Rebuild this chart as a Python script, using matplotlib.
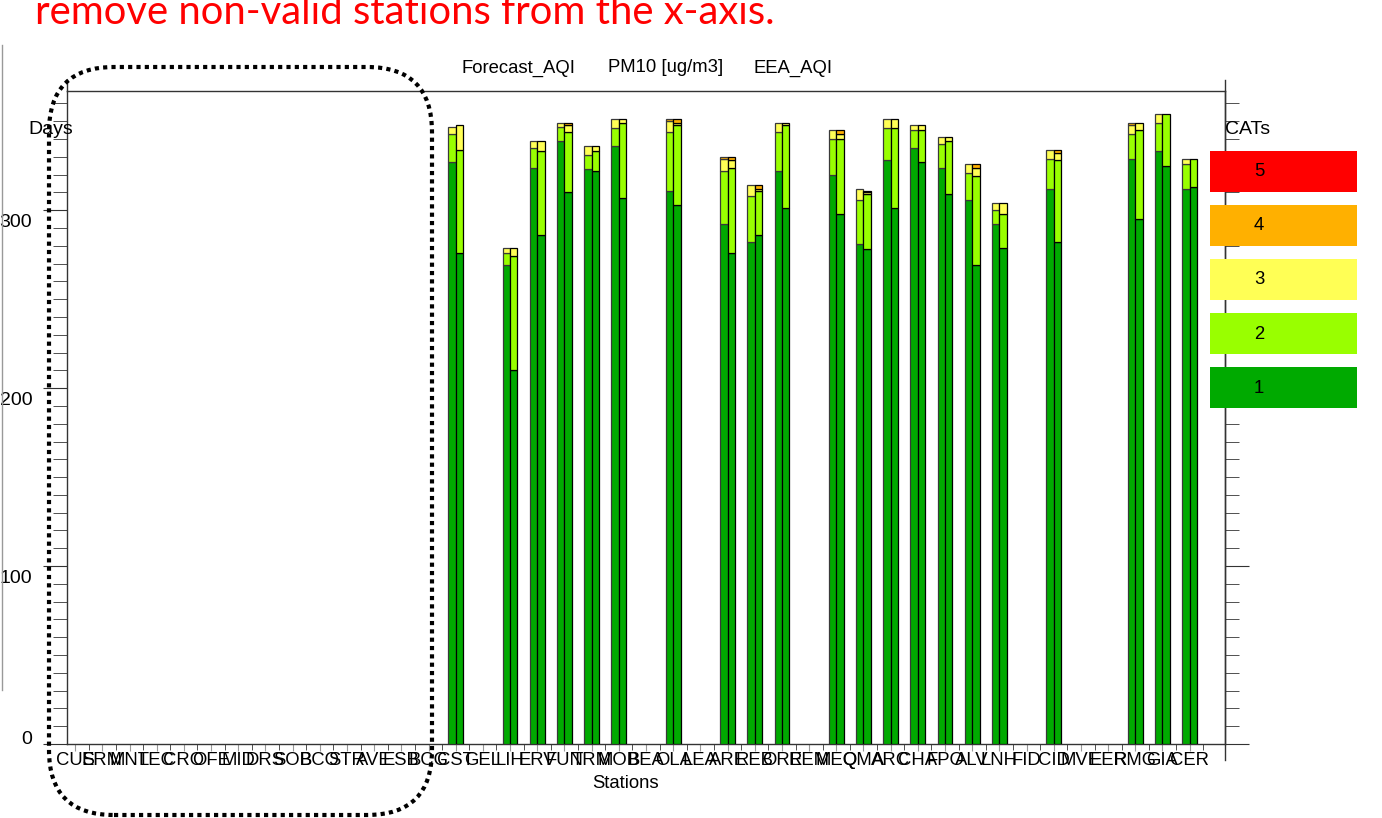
import numpy as np
import matplotlib
matplotlib.use("Agg")
import matplotlib.pyplot as plt
from matplotlib.patches import Rectangle, FancyBboxPatch
from matplotlib.transforms import ScaledTranslation

plt.rcParams['font.family'] = ['Liberation Sans', 'DejaVu Sans']

# estaciones del eje x (todas, incluidas las que no tienen datos)
stations = ["CUS", "ERM", "MNT", "LEC", "CRO", "OFE", "MID", "DRS", "SOB", "BCO",
            "STR", "AVE", "ESB", "BCG", "CST", "GEL", "LIH", "ERV", "FUN", "TRM",
            "MOB", "BEA", "OLA", "LEA", "ARE", "REB", "ORE", "REM", "MEQ", "QMA",
            "ARC", "CHA", "FPO", "ALV", "LNH", "FID", "CID", "MVE", "EER", "RMG",
            "GIA", "CER"]

# estaciones con datos
valid = ["CST", "LIH", "ERV", "FUN", "TRM", "MOB", "OLA", "ARE", "REB", "ORE",
         "MEQ", "QMA", "ARC", "CHA", "FPO", "ALV", "LNH", "CID", "RMG", "GIA", "CER"]

# días por categoría - Forecast_AQI (barra izquierda)
fc_cat1 = [327, 269, 324, 339, 323, 336, 311, 292, 282, 322, 320, 281, 328, 335, 324, 306, 292, 312, 329, 333, 312]
fc_cat2 = [16, 7, 11, 8, 8, 10, 33, 30, 26, 22, 20, 25, 18, 10, 13, 15, 8, 17, 14, 16, 14]
fc_cat3 = [4, 3, 4, 2, 5, 5, 6, 7, 6, 5, 5, 6, 5, 3, 4, 5, 4, 5, 5, 5, 3]
fc_cat4 = [0, 0, 0, 0, 0, 0, 1, 1, 0, 0, 0, 0, 0, 0, 0, 0, 0, 0, 1, 0, 0]

# días por categoría - EEA_AQI (barra derecha)
ob_cat1 = [276, 210, 286, 310, 322, 307, 303, 276, 286, 301, 298, 278, 301, 327, 309, 269, 279, 282, 295, 325, 313]
ob_cat2 = [58, 64, 47, 34, 11, 42, 45, 48, 25, 47, 42, 31, 45, 18, 30, 50, 19, 46, 50, 29, 16]
ob_cat3 = [14, 5, 6, 4, 3, 2, 1, 4, 1, 1, 3, 1, 5, 3, 2, 5, 6, 4, 4, 0, 0]
ob_cat4 = [0, 0, 0, 1, 0, 0, 2, 2, 2, 0, 2, 1, 0, 0, 0, 2, 0, 2, 0, 0, 0]

cat_labels = ["1", "2", "3", "4", "5"]
cat_colors = ["#00AA00", "#99FF00", "#FFFF55", "#FFB000", "#FF0000"]

W, H = 1382, 818
fs = 13.3
fig = plt.figure(figsize=(W / 100, H / 100), dpi=100)
ax = fig.add_axes([67 / W, 1 - 744 / H, (1225 - 67) / W, (744 - 91) / H])

pos = np.array([stations.index(s) for s in valid], dtype=float)
bw = 0.27


def stacked(x, cats, edge):
    bottom = np.zeros(len(x))
    for vals, col in zip(cats, cat_colors):
        vals = np.array(vals, dtype=float)
        m = vals > 0
        ax.bar(x[m], vals[m], bw, bottom=bottom[m], color=col,
               edgecolor=edge, linewidth=0.9, zorder=3)
        bottom += vals


stacked(pos - 0.135, [fc_cat1, fc_cat2, fc_cat3, fc_cat4], "#3a3a3a")
stacked(pos + 0.135, [ob_cat1, ob_cat2, ob_cat3, ob_cat4], "black")

ax.set_xlim(-0.3, 42.3)
ax.set_ylim(0, 367)

ax.set_xticks(np.arange(len(stations)))
ax.set_xticklabels(stations, fontsize=fs)
ax.set_xticks(np.arange(len(stations)) + 0.5, minor=True)
ax.tick_params(axis='x', which='major', length=5, color='#999999', pad=1)
ax.tick_params(axis='x', which='minor', length=4, color='#333333')

ax.set_yticks([0, 100, 200, 300])
ax.set_yticks(np.arange(0, 367, 10), minor=True)
ax.tick_params(axis='y', which='major', length=17, color='#333333', pad=8,
               labelsize=14, right=True, direction='out')
ax.tick_params(axis='y', which='minor', length=10, color='#333333', right=True,
               direction='out')
for lab in ax.get_yticklabels():
    dy = 0.07 if lab.get_text() == "0" else -0.1
    lab.set_transform(lab.get_transform() + ScaledTranslation(0, dy, fig.dpi_scale_trans))

for sp in ax.spines.values():
    sp.set_color('#333333')
    sp.set_linewidth(1)

# prolongaciones de los ejes
ax.plot([0, 0], [1, 1 + 11 / 653], transform=ax.transAxes, color='#333333', lw=1, clip_on=False)
ax.plot([1, 1], [-16 / 653, 1 + 11 / 653], transform=ax.transAxes, color='#333333', lw=1, clip_on=False)

# títulos
fig.text(462 / W, 1 - 68 / H, "Forecast_AQI", fontsize=fs, va='center', ha='left')
fig.text(608 / W, 1 - 68 / H, "PM10 [ug/m3]", fontsize=fs, va='center', ha='left')
fig.text(754 / W, 1 - 68 / H, "EEA_AQI", fontsize=fs, va='center', ha='left')
fig.text(28 / W, 1 - 130 / H, "Days", fontsize=14, va='center', ha='left')
fig.text(1225 / W, 1 - 130 / H, "CATs", fontsize=14, va='center', ha='left')
fig.text(626 / W, 1 - 784 / H, "Stations", fontsize=fs, va='center', ha='center')

# leyenda de categorías
for k, (lab, col) in enumerate(zip(cat_labels[::-1], cat_colors[::-1])):
    top = 151 + k * 54
    fig.add_artist(Rectangle((1210 / W, 1 - (top + 41) / H), 147 / W, 41 / H,
                             transform=fig.transFigure, facecolor=col, edgecolor='none'))
    fig.text(1259 / W, 1 - (top + 21) / H, lab, fontsize=fs, va='center', ha='center')

# anotación de la diapositiva
fig.text(35 / W, 1 - 24 / H, "remove non-valid stations from the x-axis.",
         color='#FF0000', fontsize=28.8, family=['Lato', 'DejaVu Sans'], va='baseline', ha='left')
fig.add_artist(plt.Line2D([1.5 / W, 1.5 / W], [1 - 690 / H, 1 - 45 / H],
                          transform=fig.transFigure, color='#999999', lw=1))

caja = FancyBboxPatch((0.49, 0.03), 3.83, 7.48,
                      boxstyle="round,pad=0,rounding_size=0.65",
                      transform=fig.dpi_scale_trans, facecolor='none',
                      edgecolor='black', linewidth=3, linestyle=(0, (1, 1)))
fig.add_artist(caja)

fig.savefig("out.png", dpi=100)
